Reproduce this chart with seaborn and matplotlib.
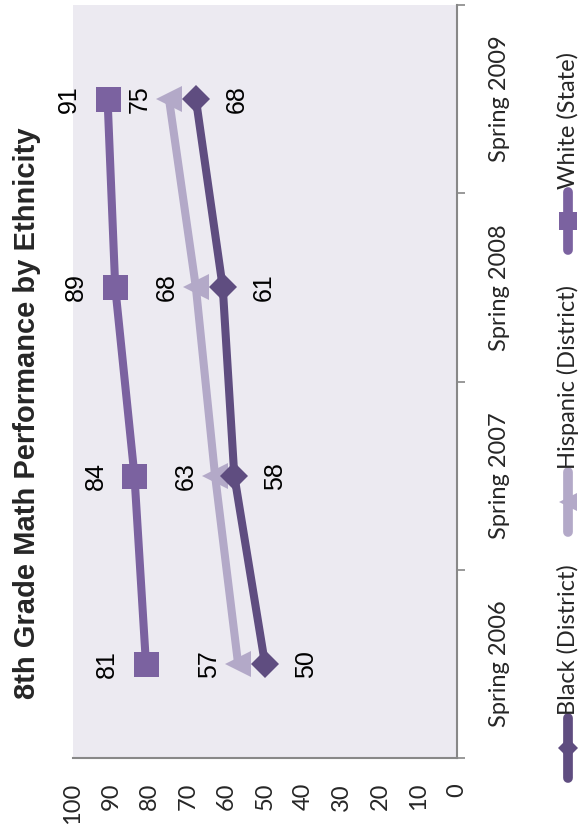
import numpy as np
import pandas as pd
import seaborn as sns
import matplotlib.pyplot as plt
from matplotlib.lines import Line2D

# chart data
Terms = ["Spring 2006", "Spring 2007", "Spring 2008", "Spring 2009"]
Black_District = [50, 58, 61, 68]
Hispanic_District = [57, 63, 68, 75]
White_State = [81, 84, 89, 91]
Value_Ticks = [0, 10, 20, 30, 40, 50, 60, 70, 80, 90, 100]

Series_Names = ["Black (District)", "Hispanic (District)", "White (State)"]
Series_Values = [Black_District, Hispanic_District, White_State]
Colors = ["#5F4D80", "#B3A9C8", "#7B62A0"]
Markers = ["D", "<", "s"]
Marker_Sizes = [14.5, 19, 18]
Legend_Marker_Sizes = [10, 13, 13]
Label_Offsets = [29.5, -21, -28]   # points on screen, + is to the right
Draw_Order = [3, 2, 1]

Tick_Font = ["Lato", "DejaVu Sans"]
Label_Font = ["Liberation Sans Narrow", "Liberation Sans", "DejaVu Sans"]

sns.set_style("white")

rows = []
for name, vals in zip(Series_Names, Series_Values):
    for i, v in enumerate(vals):
        rows.append({"Group": name, "Term": Terms[i], "Pos": i, "Score": v})
Data = pd.DataFrame(rows)

fig = plt.figure(figsize=(5.79, 8.25), dpi=100)
ax = fig.add_axes([73/579, 1-758/825, (457-73)/579, (758-5)/825])
ax.set_facecolor("#ECEAF1")

for name, color, marker, ms, off, z in zip(Series_Names, Colors, Markers, Marker_Sizes, Label_Offsets, Draw_Order):
    Sub = Data[Data["Group"] == name]
    sns.lineplot(data=Sub, x="Score", y="Pos", orient="y", sort=False, ax=ax,
                 color=color, linewidth=5.8, marker=marker, markersize=ms,
                 markeredgewidth=0, zorder=z, solid_capstyle="butt")
    for _, r in Sub.iterrows():
        ax.annotate(str(r["Score"]), (r["Score"], r["Pos"]), xytext=(off, 0),
                    textcoords="offset points", rotation=90, ha="center", va="center",
                    fontsize=18, family=Label_Font, color="black")

ax.set_xlim(100, 0)
ax.set_ylim(-0.5, len(Terms) - 0.5)
ax.set_xticks(Value_Ticks)
ax.set_xticklabels([str(v) for v in Value_Ticks], rotation=90, family=Tick_Font, fontsize=17)
ax.tick_params(axis="x", length=0, pad=18)

ax.yaxis.tick_right()
ax.set_yticks(np.arange(-0.5, len(Terms), 1.0))
ax.set_yticklabels([])
ax.set_yticks(range(len(Terms)), minor=True)
ax.set_yticklabels(Terms, minor=True, rotation=90, va="center", family=Tick_Font, fontsize=17)
ax.tick_params(axis="y", which="major", length=6, width=1.2, color="#888888", direction="out")
ax.tick_params(axis="y", which="minor", length=0, pad=23)
ax.set_xlabel("")
ax.set_ylabel("")

for s in ["left", "top"]:
    ax.spines[s].set_visible(False)
for s in ["right", "bottom"]:
    ax.spines[s].set_color("#888888")
    ax.spines[s].set_linewidth(1.5)
if ax.get_legend():
    ax.get_legend().remove()

fig.text(27/579, 1-413/825, "8th Grade Math Performance by Ethnicity", rotation=90,
         ha="center", va="center", fontsize=21, fontweight="bold",
         family=["Liberation Sans", "DejaVu Sans"])

# legend drawn sideways, like the rest of the chart
Legend_X = 568/579
Legend_Handle_Bottom = [778, 532, 250]
Legend_Handle_Top = [718, 472, 192]
for name, color, marker, lms, bot, top in zip(Series_Names, Colors, Markers, Legend_Marker_Sizes,
                                              Legend_Handle_Bottom, Legend_Handle_Top):
    y0 = 1 - bot/825
    y1 = 1 - top/825
    fig.add_artist(Line2D([Legend_X]*3, [y0, (y0+y1)/2, y1], transform=fig.transFigure,
                          color=color, linewidth=7, solid_capstyle="round",
                          marker=marker, markersize=lms, markevery=[1], markeredgewidth=0))
    fig.text(Legend_X, y1 + 3/825, name, rotation=90, ha="center", va="bottom",
             fontsize=17, family=Tick_Font)

fig.savefig("out.png", dpi=100)
